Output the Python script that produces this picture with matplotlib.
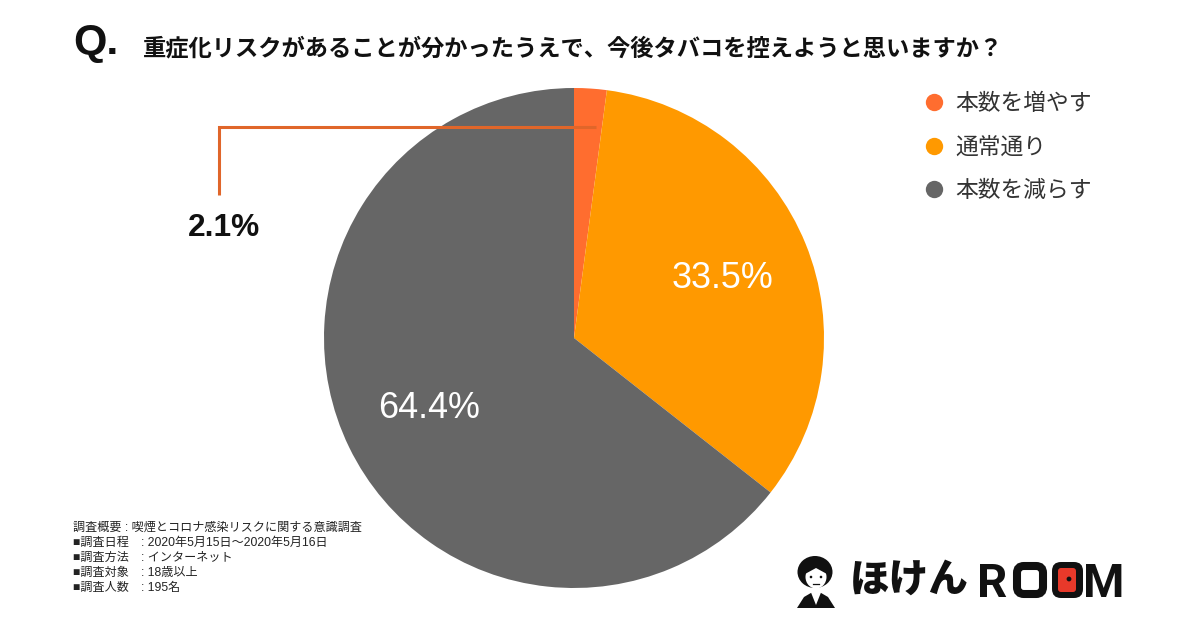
"""
Pie chart of the smoking survey answers (1200x630)
"""
import matplotlib
matplotlib.use('Agg')
import matplotlib.pyplot as plt
from matplotlib.lines import Line2D
from matplotlib.patches import Circle, Ellipse, FancyBboxPatch, Polygon

plt.rcParams['font.family'] = ['Liberation Sans', 'Noto Sans CJK JP', 'DejaVu Sans']

title = '重症化リスクがあることが分かったうえで、今後タバコを控えようと思いますか？'
categories = ['本数を増やす', '通常通り', '本数を減らす']
values = [2.1, 33.5, 64.4]
colors = ['#ff6d2f', '#ff9900', '#666666']
notes = ['調査概要 : 喫煙とコロナ感染リスクに関する意識調査',
         '■調査日程　: 2020年5月15日～2020年5月16日',
         '■調査方法　: インターネット',
         '■調査対象　: 18歳以上',
         '■調査人数　: 195名']

W, H = 1200, 630
fig = plt.figure(figsize=(W / 100, H / 100), dpi=100, facecolor='white')

# Pie axes, placed in pixels of the reference
cx, cy, r = 574, 338, 250
ax = fig.add_axes([(cx - r) / W, 1 - (cy + r) / H, 2 * r / W, 2 * r / H])
ax.pie(values, colors=colors, startangle=90, counterclock=False, radius=1,
       wedgeprops={'linewidth': 0})
ax.set_xlim(-1, 1)
ax.set_ylim(-1, 1)

# Overlay in pixel coordinates for text, leader and logo
ov = fig.add_axes([0, 0, 1, 1], facecolor='none')
ov.set_xlim(0, W)
ov.set_ylim(H, 0)
ov.axis('off')

ov.text(73, 43, 'Q.', fontsize=31, fontweight='bold', color='#111111', va='center')
ov.text(143, 49, title, fontsize=16.75, fontweight='bold', color='#111111', va='center')

ov.text(722, 279, f'{values[1]}%', fontsize=25.8, color='white', ha='center', va='center')
ov.text(429, 409, f'{values[2]}%', fontsize=25.8, color='white', ha='center', va='center')
ov.text(224, 228, f'{values[0]}%', fontsize=22.8, fontweight='bold', color='#111111',
        ha='center', va='center')

# Leader line for the small slice
ov.plot([219, 219, 596], [195, 127, 127], color='#e0662a', lw=2.2,
        solid_joinstyle='miter', solid_capstyle='butt')

# Legend
handles = [Line2D([], [], ls='none', marker='o', ms=12.5, mfc=c, mec='none') for c in colors]
leg = ov.legend(handles, categories, loc='upper left', bbox_to_anchor=(917 / W, 1 - 92 / H),
                bbox_transform=fig.transFigure, frameon=False, fontsize=16.4, labelspacing=0.91,
                handletextpad=0.2, borderpad=0, borderaxespad=0, handlelength=1.5)
for t in leg.get_texts():
    t.set_color('#333333')

# Survey notes
for i, line in enumerate(notes):
    ov.text(73, 528 + i * 15, line, fontsize=8.7, color='#222222', va='center')

# Logo: person icon
ink = '#111111'
ov.add_patch(Polygon([(797, 608), (804, 597), (816, 590), (828, 597), (835, 608)],
                     closed=True, fc=ink, ec='none'))
ov.add_patch(Polygon([(810, 590), (822, 590), (816, 605)], closed=True, fc='white', ec='none'))
ov.add_patch(Ellipse((815, 572), 35, 32, fc=ink, ec='none'))
ov.add_patch(Ellipse((816, 577), 21, 23, fc='white', ec='none'))
ov.add_patch(Polygon([(805, 574), (809, 564), (827, 564), (827, 574), (816, 568)],
                     closed=True, fc=ink, ec='none'))
ov.add_patch(Circle((811, 577), 1.3, fc=ink, ec='none'))
ov.add_patch(Circle((821, 577), 1.3, fc=ink, ec='none'))
ov.plot([813, 819], [584, 584], color=ink, lw=0.9)

# Logo: wordmark, the two O are drawn as rounded frames with the red door in the second
ov.text(850, 580, 'ほけん', fontsize=28.5, fontweight=900, color=ink, va='center',
        family=['Noto Sans CJK JP'])
ov.text(977, 597, 'R', fontsize=34, fontweight='bold', color=ink, va='baseline', family=['Roboto'])
ov.text(1083, 597, 'M', fontsize=34, fontweight='bold', color=ink, va='baseline', family=['Roboto'])
ov.add_patch(FancyBboxPatch((1017, 566), 26, 28, boxstyle='round,pad=0,rounding_size=7',
                            fc='white', ec=ink, lw=5.8))
ov.add_patch(FancyBboxPatch((1052, 562), 31, 36, boxstyle='round,pad=0,rounding_size=9',
                            fc=ink, ec='none'))
ov.add_patch(FancyBboxPatch((1058, 568), 18, 24, boxstyle='round,pad=0,rounding_size=3',
                            fc='#e8392a', ec='none'))
ov.add_patch(Circle((1069, 579), 2.4, fc=ink, ec='none'))

fig.savefig('out.png', dpi=100)
